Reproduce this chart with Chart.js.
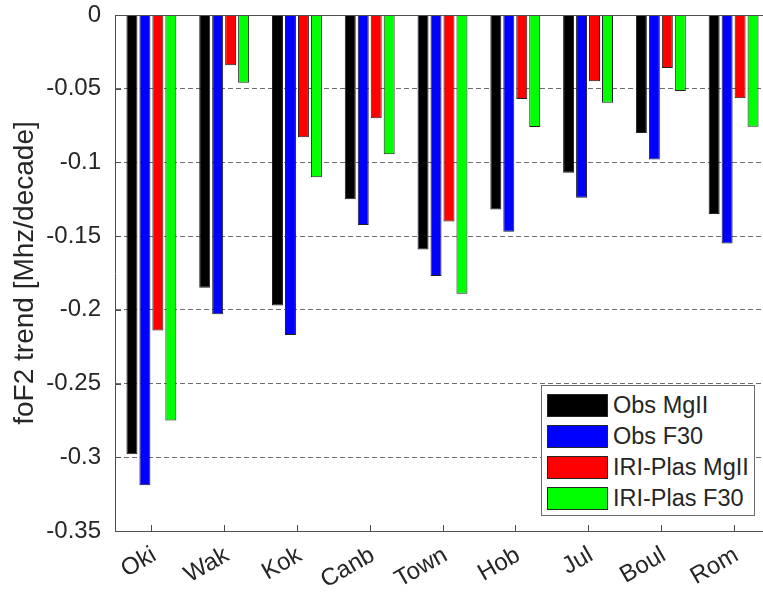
<!DOCTYPE html>
<html>
<head>
<meta charset="utf-8">
<script src="https://cdn.jsdelivr.net/npm/chart.js@4"></script>
<style>
  html, body { margin: 0; padding: 0; background: #fff; overflow: hidden; }
  #wrap { position: relative; width: 770px; height: 597px; }
  #legend {
    position: absolute; left: 541px; top: 385px; width: 214px; height: 131px;
    border: 1px solid #6b6b6b; background: #fff; box-sizing: border-box;
    font-family: "Liberation Sans", Arial, sans-serif; font-size: 23.5px; color: #262626;
  }
  .item { position: absolute; left: 5px; height: 23px; display: flex; align-items: center; }
  .sw { width: 61px; height: 23px; border: 1px solid #262626; box-sizing: border-box; margin-right: 5px; }
</style>
</head>
<body>
<div id="wrap">
  <canvas id="c" width="770" height="597"></canvas>
  <div id="legend"></div>
</div>
<script>
const categories = ["Oki", "Wak", "Kok", "Canb", "Town", "Hob", "Jul", "Boul", "Rom"];
const obsMgII     = [-0.298, -0.185, -0.197, -0.125, -0.159, -0.132, -0.107, -0.080, -0.135];
const obsF30      = [-0.319, -0.203, -0.217, -0.1425, -0.177, -0.147, -0.124, -0.098, -0.155];
const iriPlasMgII = [-0.214, -0.034, -0.083, -0.070, -0.140, -0.057, -0.045, -0.036, -0.0565];
const iriPlasF30  = [-0.275, -0.046, -0.110, -0.0945, -0.189, -0.076, -0.0595, -0.0515, -0.0758];
const seriesNames = ["Obs MgII", "Obs F30", "IRI-Plas MgII", "IRI-Plas F30"];
const seriesColors = ["#000000", "#0000ff", "#ff0000", "#00ff00"];
const yTicks = [0, -0.05, -0.1, -0.15, -0.2, -0.25, -0.3, -0.35];

const seriesValues = [obsMgII, obsF30, iriPlasMgII, iriPlasF30];
const FONT = "'Liberation Sans', Arial, sans-serif";
const TXT = "#262626";
const AX = "#4d4d4d";

const extras = {
  id: "extras",
  afterDraw(chart) {
    const ctx = chart.ctx, a = chart.chartArea, xs = chart.scales.x, ys = chart.scales.y;
    ctx.save();
    ctx.strokeStyle = AX; ctx.lineWidth = 1;
    ctx.beginPath();
    ctx.moveTo(a.left, a.top + 0.5); ctx.lineTo(a.right, a.top + 0.5);
    ys.ticks.forEach(t => {
      const py = Math.round(ys.getPixelForValue(t.value)) + 0.5;
      ctx.moveTo(a.left, py); ctx.lineTo(a.left + 6, py);
    });
    xs.ticks.forEach((t, i) => {
      const px = Math.round(xs.getPixelForTick(i)) + 0.5;
      ctx.moveTo(px, a.bottom); ctx.lineTo(px, a.bottom - 6);
    });
    ctx.stroke();
    ctx.restore();
  }
};

new Chart(document.getElementById("c"), {
  type: "bar",
  data: {
    labels: categories,
    datasets: seriesValues.map((vals, i) => ({
      label: seriesNames[i],
      data: vals,
      backgroundColor: seriesColors[i],
      borderColor: "#1f1f1f",
      borderWidth: 1,
      categoryPercentage: 0.713,
      barPercentage: 0.846
    }))
  },
  options: {
    responsive: false,
    animation: false,
    layout: { padding: { top: 15, left: 0, right: 0, bottom: 0 } },
    plugins: { legend: { display: false }, tooltip: { enabled: false } },
    scales: {
      x: {
        offset: true,
        grid: { display: false, drawTicks: false },
        border: { display: true, color: AX },
        ticks: {
          color: TXT, font: { family: FONT, size: 24 },
          maxRotation: 30, minRotation: 30, padding: 10, labelOffset: 3
        },
        afterFit: s => { s.height = 66; s.paddingLeft = 0; s.paddingRight = 0; }
      },
      y: {
        min: -0.35, max: 0,
        afterBuildTicks: s => { s.ticks = yTicks.map(v => ({ value: v })); },
        grid: {
          drawTicks: false,
          color: c => (c.tick && (c.tick.value === 0 || c.tick.value === -0.35)) ? "rgba(0,0,0,0)" : "#6e6e6e"
        },
        border: { display: true, color: AX, dash: [5, 3] },
        ticks: {
          color: TXT, font: { family: FONT, size: 24 }, padding: 14,
          callback: v => String(Number(v.toFixed(2)))
        },
        title: {
          display: true, text: "foF2 trend [Mhz/decade]",
          color: TXT, font: { family: FONT, size: 28 }, padding: { top: 8, bottom: 0 }
        },
        afterFit: s => { s.width = 115; s.paddingTop = 0; s.paddingBottom = 0; }
      }
    }
  },
  plugins: [extras]
});

const leg = document.getElementById("legend");
seriesNames.forEach((n, i) => {
  const d = document.createElement("div");
  d.className = "item";
  d.style.top = (8 + i * 31) + "px";
  const sw = document.createElement("div");
  sw.className = "sw"; sw.style.background = seriesColors[i];
  const t = document.createElement("span"); t.textContent = n;
  d.appendChild(sw); d.appendChild(t);
  leg.appendChild(d);
});
</script>
</body>
</html>
